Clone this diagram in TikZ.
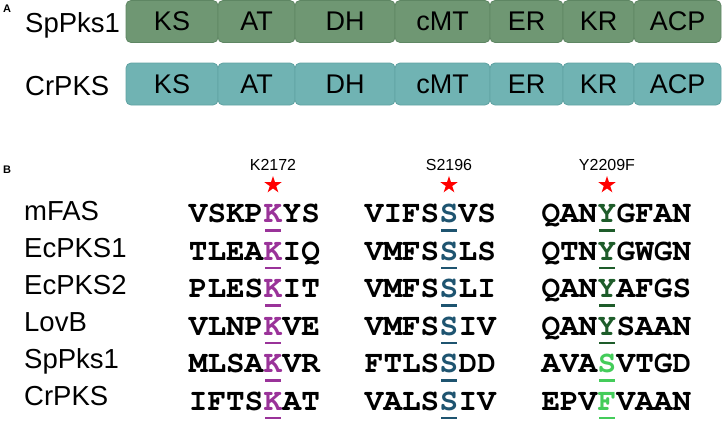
\documentclass[tikz,border=0pt]{standalone}
\usepackage[T1]{fontenc}
\usepackage{fontspec}
\setmainfont{Liberation Sans}
\newcommand{\courierbold}{\fontencoding{T1}\fontfamily{pcr}\fontseries{b}\fontshape{n}\selectfont}
\usetikzlibrary{shapes.geometric,calc}
\definecolor{boxgreen}{HTML}{6F9773}
\definecolor{boxgreenline}{HTML}{5E8663}
\definecolor{boxteal}{HTML}{70B3B3}
\definecolor{boxtealline}{HTML}{5FA2A2}
\definecolor{kpurple}{HTML}{9A3399}
\definecolor{sblue}{HTML}{1E5470}
\definecolor{ydark}{HTML}{1E5C2A}
\definecolor{ylight}{HTML}{44CC5A}
\begin{document}
\begin{tikzpicture}[x=1pt,y=-1pt,
  dom/.style={draw=#1line, fill=#1, rounded corners=5pt, line width=0.8pt,
    minimum height=42pt, inner sep=0pt, font=\fontsize{27}{27}\selectfont, text=black},
  protlab/.style={anchor=base west, inner sep=0pt, font=\fontsize{27.5}{27.5}\selectfont},
  panel/.style={inner sep=0pt, font=\fontsize{11}{11}\selectfont\bfseries},
  seq/.style={inner sep=0pt, font=\fontsize{31}{31}\courierbold},
  mutlab/.style={inner sep=0pt, font=\fontsize{16}{16}\selectfont},
  redstar/.style={star, star points=5, star point ratio=2.618, fill=red, draw=none,
    minimum size=18pt, inner sep=0pt},
  bar/.style={draw=#1, line width=2.4pt}
]
\useasboundingbox (0,0) rectangle (722,421);

% Panel A
\node[panel] (pA) at (7,9) {A};
\node[protlab] (lab1) at (25,32) {SpPks1};
\node[protlab] (lab2) at (25,95) {CrPKS};
\foreach \r/\c/\y in {1/boxgreen/21.5, 2/boxteal/84}{
  \foreach \n/\xa/\xb/\t in {1/126/218/KS, 2/218/295/AT, 3/295/395/DH, 4/395/490/cMT,
                             5/490/563/ER, 6/563/634/KR, 7/634/721/ACP}{
    \node[dom=\c, minimum width={\xb-\xa}] (d\r\n) at ({(\xa+\xb)/2},\y) {\t};
  }
}

% Panel B
\node[panel] (pB) at (7,170) {B};
\node[mutlab] (m1) at (273,165) {K2172};
\node[mutlab] (m2) at (449,165) {S2196};
\node[mutlab] (m3) at (607,165) {Y2209F};
\node[redstar] (st1) at (273,185) {};
\node[redstar] (st2) at (449,185) {};
\node[redstar] (st3) at (607,185) {};

\foreach \i/\lab/\pa/\ka/\sa/\pb/\kb/\sb/\pc/\kc/\sc/\cc in {
  0/mFAS/VSKP/K/YS/VIFS/S/VS/QAN/Y/GFAN/ydark,
  1/EcPKS1/TLEA/K/IQ/VMFS/S/LS/QTN/Y/GWGN/ydark,
  2/EcPKS2/PLES/K/IT/VMFS/S/LI/QAN/Y/AFGS/ydark,
  3/LovB/VLNP/K/VE/VMFS/S/IV/QAN/Y/SAAN/ydark,
  4/SpPks1/MLSA/K/VR/FTLS/S/DD/AVA/S/VTGD/ylight,
  5/CrPKS/IFTS/K/AT/VALS/S/IV/EPV/F/VAAN/ylight}{
  \pgfmathsetmacro{\yb}{222.5+37.5*\i}
  \pgfmathsetmacro{\yl}{220+37*\i}
  \node[protlab] (row\i) at (24,\yl) {\lab};
  % column 1
  \node[seq, anchor=base, text=kpurple] (ka\i) at (273,\yb) {\ka};
  \node[seq, anchor=base east] (pa\i) at (ka\i.base west) {\pa};
  \node[seq, anchor=base west] (sa\i) at (ka\i.base east) {\sa};
  % column 2
  \node[seq, anchor=base, text=sblue] (kb\i) at (449,\yb) {\kb};
  \node[seq, anchor=base east] (pb\i) at (kb\i.base west) {\pb};
  \node[seq, anchor=base west] (sb\i) at (kb\i.base east) {\sb};
  % column 3
  \node[seq, anchor=base, text=\cc] (kc\i) at (607,\yb) {\kc};
  \node[seq, anchor=base east] (pc\i) at (kc\i.base west) {\pc};
  \node[seq, anchor=base west] (sc\i) at (kc\i.base east) {\sc};
  % underline bars
  \draw[bar=kpurple] ($(ka\i.base)+(-8,8)$) -- ($(ka\i.base)+(8,8)$);
  \draw[bar=sblue] ($(kb\i.base)+(-8,8)$) -- ($(kb\i.base)+(8,8)$);
  \draw[bar=\cc] ($(kc\i.base)+(-8,8)$) -- ($(kc\i.base)+(8,8)$);
}
\end{tikzpicture}
\end{document}
